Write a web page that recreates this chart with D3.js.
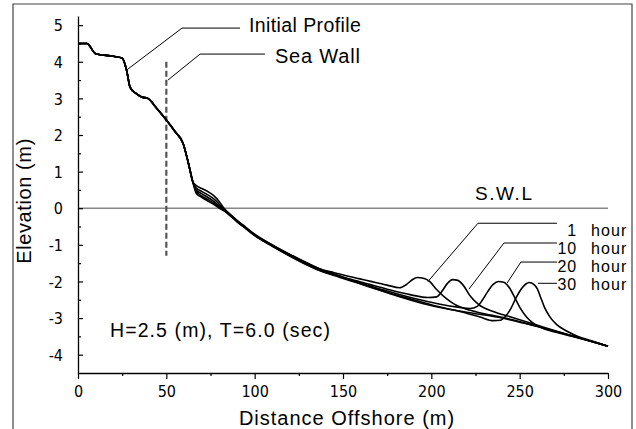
<!DOCTYPE html>
<html>
<head>
<meta charset="utf-8">
<script src="https://cdn.jsdelivr.net/npm/d3@7/dist/d3.min.js"></script>
<style>
  body { margin: 0; background: #fff; }
  svg { display: block; }
  .tick text { font-family: "DejaVu Sans Condensed", "DejaVu Sans", sans-serif; font-stretch: condensed; font-size: 16px; fill: #000; }
  .ann { font-family: "Liberation Sans", Arial, sans-serif; fill: #000; }
</style>
</head>
<body>
<script>
// ---------------- data ----------------
const xTicks = [0, 50, 100, 150, 200, 250, 300];
const xMinorTicks = [25, 75, 125, 175, 225, 275];
const yTicks = [-4, -3, -2, -1, 0, 1, 2, 3, 4, 5];
const yMinorTicks = [-3.5, -2.5, -1.5, -0.5, 0.5, 1.5, 2.5, 3.5, 4.5];

// common landward part of the profile (x in m, elevation in m)
const shoreProfile = [[0,4.5],[5,4.5],[10,4.22],[20,4.15],[25,4.1],[27.5,3.77],[29.5,3.3],[33,3.13],[36,3.04],[39.5,3.0],[44.5,2.73],[50,2.41],[55,2.09],[59.5,1.77],[62.5,1.23],[65,0.72]];

const initialProfile = [[67,0.62],[70,0.54],[74,0.44],[77,0.34],[80,0.18],[83,-0.02],[86,-0.16],[90,-0.33],[95,-0.52],[100,-0.71],[110,-1.0],[120,-1.26],[130,-1.5],[137,-1.66],[148,-1.86],[160,-2.06],[170,-2.22],[182,-2.42],[195,-2.6],[210,-2.76],[225,-2.88],[240,-3.0],[255,-3.17],[270,-3.36],[285,-3.56],[300,-3.77]];

const hour1 = [[67,0.55],[70,0.46],[74,0.35],[77,0.25],[80,0.11],[83,-0.04],[86,-0.17],[90,-0.34],[95,-0.53],[100,-0.72],[110,-1.01],[120,-1.27],[130,-1.51],[137,-1.66],[145,-1.76],[155,-1.88],[165,-1.99],[175,-2.1],[182,-2.17],[186,-2.08],[189,-1.96],[192,-1.89],[196,-1.92],[199,-2.0],[203,-2.22],[208,-2.45],[213,-2.62],[220,-2.76],[228,-2.86],[240,-2.98],[255,-3.16],[270,-3.36],[285,-3.56],[300,-3.77]];

const hour10 = [[67,0.5],[70,0.4],[74,0.28],[77,0.18],[80,0.06],[83,-0.06],[86,-0.18],[90,-0.35],[95,-0.54],[100,-0.73],[110,-1.02],[120,-1.29],[130,-1.53],[137,-1.68],[145,-1.8],[155,-1.95],[165,-2.08],[175,-2.21],[188,-2.36],[198,-2.44],[203,-2.42],[206,-2.27],[209,-2.06],[212,-1.95],[215,-1.97],[218,-2.1],[222,-2.4],[227,-2.64],[235,-2.82],[245,-2.97],[255,-3.12],[265,-3.27],[280,-3.49],[300,-3.77]];

const hour20 = [[67,0.45],[70,0.34],[74,0.22],[77,0.13],[80,0.03],[83,-0.07],[86,-0.19],[90,-0.36],[95,-0.55],[100,-0.74],[110,-1.03],[120,-1.3],[130,-1.55],[137,-1.7],[145,-1.82],[160,-2.04],[175,-2.26],[190,-2.46],[205,-2.62],[215,-2.7],[222,-2.74],[226,-2.68],[229,-2.5],[232,-2.27],[235,-2.08],[238,-2.0],[241,-2.02],[244,-2.16],[247,-2.42],[250,-2.7],[254,-2.98],[258,-3.15],[264,-3.3],[270,-3.38],[280,-3.5],[290,-3.63],[300,-3.77]];

const hour30 = [[67,0.4],[70,0.3],[74,0.18],[77,0.1],[80,0.0],[83,-0.08],[86,-0.2],[90,-0.37],[95,-0.56],[100,-0.75],[110,-1.04],[120,-1.31],[130,-1.56],[137,-1.71],[145,-1.84],[160,-2.07],[175,-2.3],[190,-2.5],[205,-2.7],[218,-2.84],[228,-2.98],[235,-3.07],[239,-3.06],[242,-2.95],[245,-2.74],[248,-2.44],[251,-2.2],[253.5,-2.07],[255.5,-2.03],[258,-2.08],[260,-2.2],[262,-2.45],[264,-2.7],[267,-2.96],[271,-3.18],[276,-3.34],[283,-3.5],[292,-3.64],[300,-3.77]];

const seriesNames = ["Initial Profile", "1 hour", "10 hour", "20 hour", "30 hour"];
const seriesData = [initialProfile, hour1, hour10, hour20, hour30];

const seaWallX = 50;
const seaWallTop = 4.0;
const seaWallBottom = -1.3;
const swlLevel = 0;

// annotations (data coordinates)
const hourNumbers = ["1", "10", "20", "30"];
const hourLabelY = [-0.763, -1.255, -1.747, -2.239];
const hourLeaders = [
  [[198.1,-2.0],[226.4,-0.41],[271.1,-0.41]],
  [[221.3,-2.21],[241.1,-0.95],[271.1,-0.95]],
  [[242.8,-2.05],[250.7,-1.47],[271.1,-1.47]],
  [[260.4,-2.05],[271.1,-2.05]]
];
const initialLeader = [[27.7,3.78],[58.9,4.92],[91.7,4.92]];
const seaWallLeader = [[50.9,3.5],[69.1,4.21],[105.8,4.21]];

// ---------------- drawing ----------------
const W = 636, H = 429;
const svg = d3.select("body").append("svg").attr("width", W).attr("height", H);

const x = d3.scaleLinear().domain([0, 300]).range([78, 608]);
const y = d3.scaleLinear().domain([-4.5, 5.25]).range([373, 16]);

// outer frame (left, top, right)
svg.append("path")
  .attr("d", `M13,429 L13,4 L632,4 L632,429`)
  .attr("fill", "none").attr("stroke", "#444").attr("stroke-width", 1.2);

// SWL line
svg.append("line")
  .attr("x1", x(0)).attr("x2", x(300))
  .attr("y1", y(swlLevel)).attr("y2", y(swlLevel))
  .attr("stroke", "#888").attr("stroke-width", 1.5);

// axes
const xAxis = svg.append("g").attr("transform", `translate(0,${y(-4.5)})`)
  .call(d3.axisBottom(x).tickValues(xTicks).tickSize(6).tickSizeOuter(0).tickPadding(4).tickFormat(d3.format("d")));
svg.append("g").attr("transform", `translate(0,${y(-4.5)})`)
  .call(d3.axisBottom(x).tickValues(xMinorTicks).tickSize(3).tickSizeOuter(0).tickFormat(""))
  .select(".domain").remove();

const yAxis = svg.append("g").attr("transform", `translate(${x(0)},0)`)
  .call(d3.axisLeft(y).tickValues(yTicks).tickSize(-5).tickSizeOuter(0).tickPadding(15).tickFormat(d3.format("d")));
svg.append("g").attr("transform", `translate(${x(0)},0)`)
  .call(d3.axisLeft(y).tickValues(yMinorTicks).tickSize(-3).tickSizeOuter(0).tickFormat(""))
  .select(".domain").remove();

svg.selectAll(".domain").attr("stroke", "#000").attr("stroke-width", 1.3);
svg.selectAll(".tick line").attr("stroke", "#000").attr("stroke-width", 1.2);
xAxis.selectAll(".tick text").attr("dy", "0.9em");
yAxis.selectAll(".tick text").attr("dy", "0.36em");
yAxis.selectAll(".tick text").text(d => d < 0 ? "-" + Math.abs(d) : d);

// sea wall (dashed)
svg.append("line")
  .attr("x1", x(seaWallX)).attr("x2", x(seaWallX))
  .attr("y1", y(seaWallTop)).attr("y2", y(seaWallBottom))
  .attr("stroke", "#555").attr("stroke-width", 2.2).attr("stroke-dasharray", "6,3");

// profiles
const line = d3.line().x(d => x(d[0])).y(d => y(d[1])).curve(d3.curveMonotoneX);
svg.append("g").selectAll("path").data(seriesData).join("path")
  .attr("d", d => line(shoreProfile.concat(d)))
  .attr("fill", "none").attr("stroke", "#000").attr("stroke-width", 1.6)
  .attr("stroke-linejoin", "round");

// leader lines
const lline = d3.line().x(d => x(d[0])).y(d => y(d[1]));
svg.append("g").selectAll("path").data([initialLeader, seaWallLeader].concat(hourLeaders)).join("path")
  .attr("d", lline).attr("fill", "none").attr("stroke", "#000").attr("stroke-width", 1);

// annotation texts
function ann(tx, ty, str, size, ls, anchor) {
  return svg.append("text").attr("class", "ann")
    .attr("x", x(tx)).attr("y", y(ty))
    .attr("font-size", size).attr("letter-spacing", ls)
    .attr("text-anchor", anchor || "start").text(str);
}
ann(96.8, 4.81, seriesNames[0], 19.5, 0.4);
ann(111.5, 3.97, "Sea Wall", 20, 0.8);
ann(224.7, 0.22, "S.W.L", 19, 1.6);
ann(18.1, -3.52, "H=2.5 (m), T=6.0 (sec)", 19.5, 1.1);

hourNumbers.forEach((n, i) => {
  ann(282.4, hourLabelY[i], n, 16, 0.8, "end");
  ann(290.4, hourLabelY[i], "hour", 16, 1.1);
});

// axis titles
svg.append("text").attr("class", "ann")
  .attr("x", (x(0) + x(300)) / 2 + 4).attr("y", 425)
  .attr("text-anchor", "middle").attr("font-size", 20).attr("letter-spacing", 1)
  .text("Distance Offshore (m)");
svg.append("text").attr("class", "ann")
  .attr("transform", `translate(31,${y(0.2)}) rotate(-90)`)
  .attr("text-anchor", "middle").attr("font-size", 20).attr("letter-spacing", 0.6)
  .text("Elevation (m)");
</script>
</body>
</html>
